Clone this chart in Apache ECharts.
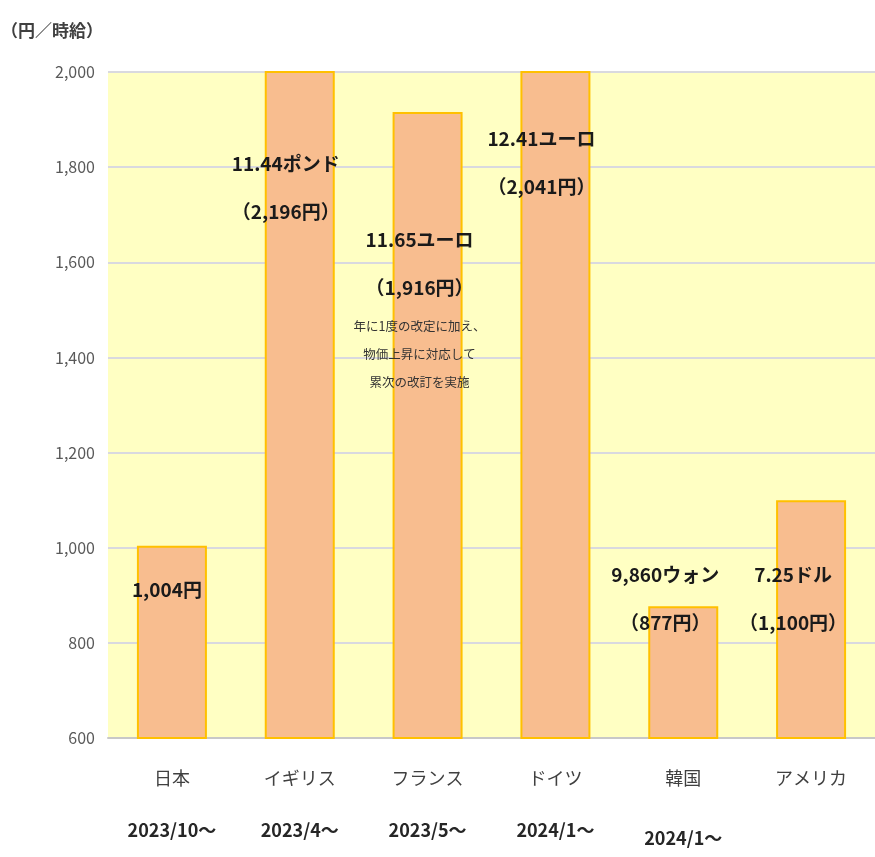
<!DOCTYPE html>
<html>
<head>
<meta charset="utf-8">
<script src="https://cdn.jsdelivr.net/npm/echarts@6/dist/echarts.min.js"></script>
<style>
html,body{margin:0;padding:0;background:#fff;}
#chart{width:875px;height:857px;}
</style>
</head>
<body>
<div id="chart"></div>
<script>
const categories = ['日本', 'イギリス', 'フランス', 'ドイツ', '韓国', 'アメリカ'];
const startDates = ['2023/10～', '2023/4～', '2023/5～', '2024/1～', '2024/1～', ''];
const wageYen = [1004, 2196, 1916, 2041, 877, 1100];
const localWage = ['', '11.44ポンド', '11.65ユーロ', '12.41ユーロ', '9,860ウォン', '7.25ドル'];
const notes = ['', '', '年に1度の改定に加え、\n物価上昇に対応して\n累次の改訂を実施', '', '', ''];
const yTicks = [600, 800, 1000, 1200, 1400, 1600, 1800, 2000];

// label placement (px offsets relative to bar top / centre) – styling only
const labelDy = [20, 69, 104, 44, -55, 51];
const labelDx = [-5, -14, -8, -14, -18, -18];

const fmt = v => v.toLocaleString('en-US');

const data = wageYen.map((v, i) => {
  let text;
  if (!localWage[i]) {
    text = '{a|' + fmt(v) + '円}';
  } else {
    text = '{a|' + localWage[i] + '}\n{a|（' + fmt(v) + '円）}';
    if (notes[i]) {
      text += '\n' + notes[i].split('\n').map(s => '{n|' + s + '}').join('\n');
    }
  }
  return {
    value: v,
    label: {
      show: true,
      position: ['50%', labelDy[i]],
      offset: [labelDx[i], 0],
      align: 'center',
      verticalAlign: 'top',
      formatter: text,
      rich: {
        a: { fontSize: 19, fontWeight: 'bold', lineHeight: 48, color: '#1a1a1a', fontFamily: 'Noto Sans CJK JP' },
        n: { fontSize: 12.5, lineHeight: 28, color: '#333', fontFamily: 'Noto Sans CJK JP' }
      }
    }
  };
});

const chart = echarts.init(document.getElementById('chart'), null, { renderer: 'canvas' });
chart.setOption({
  backgroundColor: '#ffffff',
  animation: false,
  title: {
    text: '（円／時給）',
    left: -4,
    top: 17,
    textStyle: { fontSize: 17, fontWeight: 'bold', color: '#404040', fontFamily: 'Noto Sans CJK JP' }
  },
  grid: {
    left: 108, right: 0, top: 72, bottom: 119,
    show: true, backgroundColor: '#FFFFC3', borderWidth: 0
  },
  xAxis: {
    type: 'category',
    data: categories,
    axisLine: { show: true, lineStyle: { color: '#C8C8C8', width: 2 } },
    axisTick: { show: false },
    axisLabel: {
      margin: 14,
      interval: 0,
      color: '#404040',
      fontFamily: 'Noto Sans CJK JP',
      formatter: (val, idx) => {
        const d = startDates[idx];
        if (!d) return '{n|' + val + '}';
        return '{n|' + val + '}\n{' + (val === '韓国' ? 'k' : 'd') + '|' + d + '}';
      },
      rich: {
        n: { fontSize: 18, lineHeight: 52, color: '#404040', fontFamily: 'Noto Sans CJK JP' },
        d: { fontSize: 18, fontWeight: 'bold', lineHeight: 52, color: '#262626', fontFamily: 'Noto Sans CJK JP' },
        k: { fontSize: 18, fontWeight: 'bold', lineHeight: 68, color: '#262626', fontFamily: 'Noto Sans CJK JP' }
      }
    }
  },
  yAxis: {
    type: 'value',
    min: yTicks[0],
    max: yTicks[yTicks.length - 1],
    interval: 200,
    axisLine: { show: false },
    axisTick: { show: false },
    axisLabel: {
      margin: 13,
      fontSize: 16,
      color: '#595959',
      fontFamily: 'Noto Sans CJK JP',
      formatter: v => fmt(v)
    },
    splitLine: { show: true, lineStyle: { color: '#D9D9DF', width: 2 } }
  },
  series: [{
    type: 'bar',
    data: data,
    barWidth: 70,
    clip: true,
    itemStyle: { color: '#F8BD8F', borderColor: '#FFC000', borderWidth: 2 }
  }]
});
</script>
</body>
</html>
